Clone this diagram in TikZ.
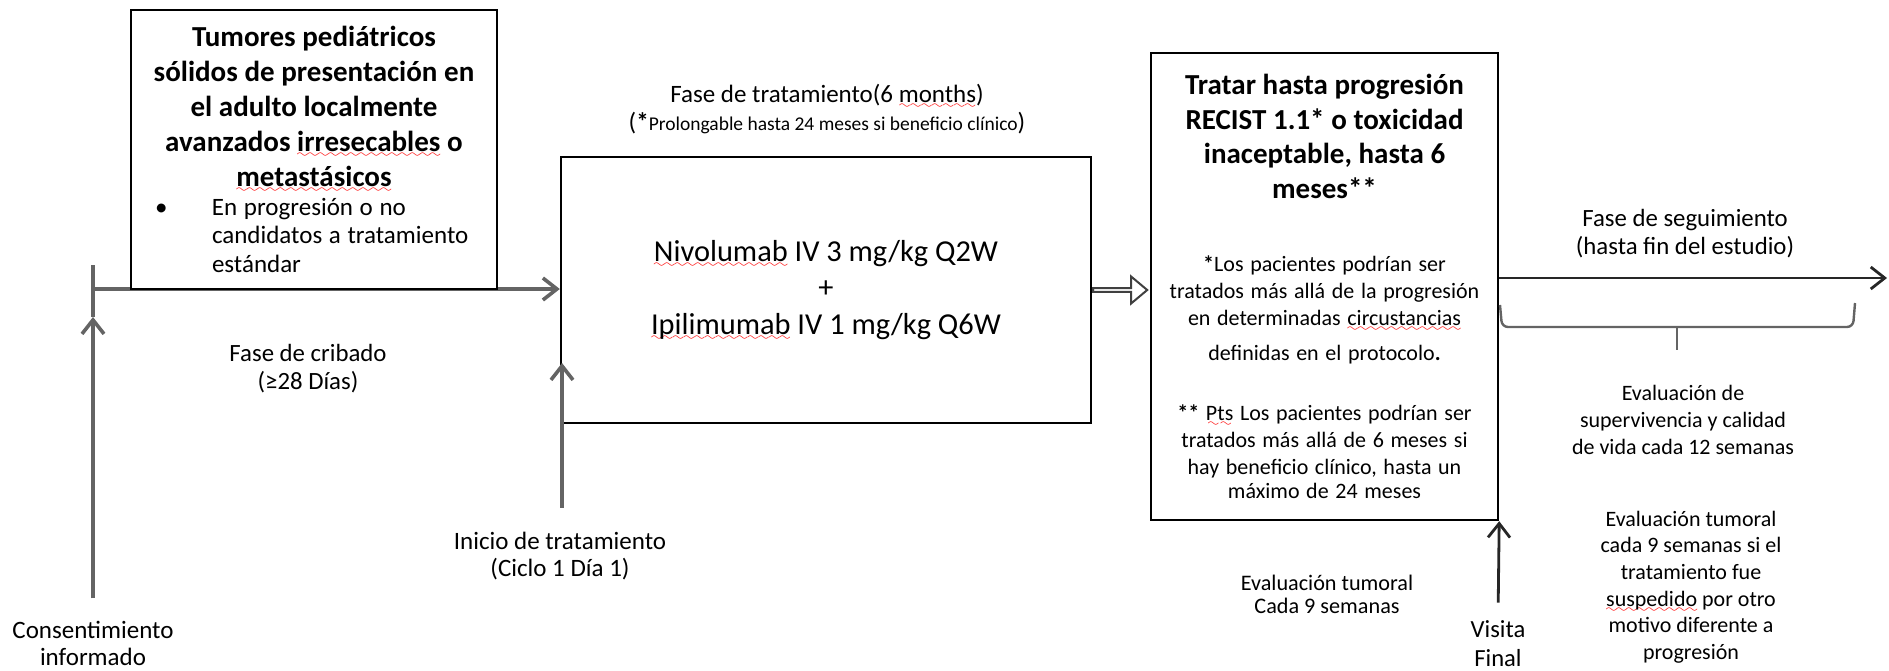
\documentclass[tikz,border=0pt]{standalone}
\usepackage{fontspec}
\setmainfont{Carlito}
\usetikzlibrary{arrows.meta, positioning, calc, shapes.arrows}
\definecolor{armgray}{RGB}{100,100,100}
\font\wavefnt=lasy6
\newcommand\spellerr[1]{\leavevmode\setbox0\hbox{#1}\rlap{\lower3pt\hbox to\wd0{\color{red}\xleaders\hbox{\wavefnt\char58}\hfil}}\box0\relax}

\begin{document}
\begin{tikzpicture}[x=0.5pt, y=-0.5pt,
  box/.style={draw=black, line width=1.2pt, inner sep=0pt, align=center, fill=white},
  lbl/.style={align=center, inner sep=0pt},
  gline/.style={draw=armgray, line width=1.8pt},
  garrow/.style={gline, -{Straight Barb[length=7pt, width=11pt]}},
  barrow/.style={draw=black!85, line width=1.4pt, -{Straight Barb[length=7pt, width=11pt]}},
  hollow/.style={single arrow, draw=black!75, line width=1pt, fill=white, inner sep=0pt,
    minimum height=27pt, minimum width=13.5pt, single arrow head extend=3.25pt,
    single arrow tip angle=80}]
\useasboundingbox (0,0) rectangle (1889,670);

\node[box, minimum width=265pt, minimum height=133pt, font=\fontsize{15.2}{18.25}\selectfont] (treat) at (826,290)
  {\spellerr{Nivolumab} IV 3 mg/kg Q2W\\ +\\ \spellerr{Ipilimumab} IV 1 mg/kg Q6W};
\node[lbl, font=\fontsize{12.5}{14}\selectfont] (phase) at (827,109)
  {Fase de tratamiento(6 \spellerr{months})\\ (\textbf{*}{\fontsize{9.75}{14}\selectfont Prolongable hasta 24 meses si beneficio clínico})};

\coordinate (t0) at (93,289);
\coordinate (c0) at (93,317);
\draw[gline] (93,265) -- (c0);
\draw[garrow] (t0) -- (treat.west |- t0);

\node[box, text width=183pt, minimum height=139.5pt] (elig) at (314,149.5) {%
  \fontsize{14.5}{17.5}\selectfont\bfseries Tumores pediátricos\\ sólidos de presentación en\\ el adulto localmente\\ avanzados \spellerr{irresecables} o\\ \spellerr{metastásicos}\\[2.25pt]
  \fontsize{12.5}{14.25}\selectfont\mdseries\noindent\hspace*{12pt}\makebox[28.5pt][l]{•}\parbox[t]{142.5pt}{\raggedright En progresión o no\\ candidatos a tratamiento\\ estándar}};

\node[lbl, font=\fontsize{12.5}{13.5}\selectfont] (consent) at (93,643) {Consentimiento\\ informado};
\draw[garrow, shorten <=11pt] (consent.north) -- (c0);
\node[lbl, font=\fontsize{12.4}{14}\selectfont] (screen) at (308,369) {Fase de cribado\\ (≥28 Días)};

\coordinate (s0) at (562,363);
\node[lbl, font=\fontsize{12.5}{13.5}\selectfont] (start) at (560,556) {Inicio de tratamiento\\ (Ciclo 1 Día 1)};
\draw[garrow, shorten <=12pt] (start.north -| s0) -- (s0);

\node[box, text width=173.5pt, minimum height=233.5pt] (resp) at (1324.5,286.5) {%
  \fontsize{14.5}{17.3}\selectfont\bfseries Tratar hasta progresión\\ RECIST 1.1* o toxicidad\\ inaceptable, hasta 6\\ meses**\\[23pt]
  \fontsize{11}{13.5}\selectfont\mdseries \textbf{*}Los pacientes podrían ser\\ tratados más allá de la progresión\\ en determinadas \spellerr{circustancias}\\[4pt] definidas en el protocolo\textbf{.}\\[16.5pt]
  \textbf{**} \spellerr{Pts} Los pacientes podrían ser\\ tratados más allá de 6 meses si\\ hay beneficio clínico, hasta un\\ máximo de 24 meses};
\node[hollow, anchor=west] (gap) at (treat.east) {};

\coordinate (f1) at (1887,278);
\draw[barrow] (resp.east |- f1) -- (f1);
\node[lbl, font=\fontsize{12.4}{14}\selectfont] (follow) at (1685,234) {Fase de seguimiento\\ (hasta fin del estudio)};
\draw[gline, line width=1.2pt, rounded corners=3pt] (1500,305) -- (1502,327) -- (1853,327) -- (1855,303);
\draw[gline, line width=1.2pt] (1677,327) -- (1677,350);
\node[lbl, font=\fontsize{11}{13.5}\selectfont] (qol) at (1683,420) {Evaluación de\\ supervivencia y calidad\\ de vida cada 12 semanas};

\node[lbl, font=\fontsize{11.1}{11.5}\selectfont] (tumeval) at (1327,594) {Evaluación tumoral\\ Cada 9 semanas};
\node[lbl, font=\fontsize{12.3}{14.5}\selectfont] (final) at (1498,644) {Visita\\ Final};
\draw[barrow, shorten <=9pt] (final.north) -- (resp.south east);
\node[lbl, font=\fontsize{11}{13.3}\selectfont] (tumfu) at (1691,587) {Evaluación tumoral\\ cada 9 semanas si el\\ tratamiento fue\\ \spellerr{suspedido} por otro\\ motivo diferente a\\ progresión};
\end{tikzpicture}
\end{document}
